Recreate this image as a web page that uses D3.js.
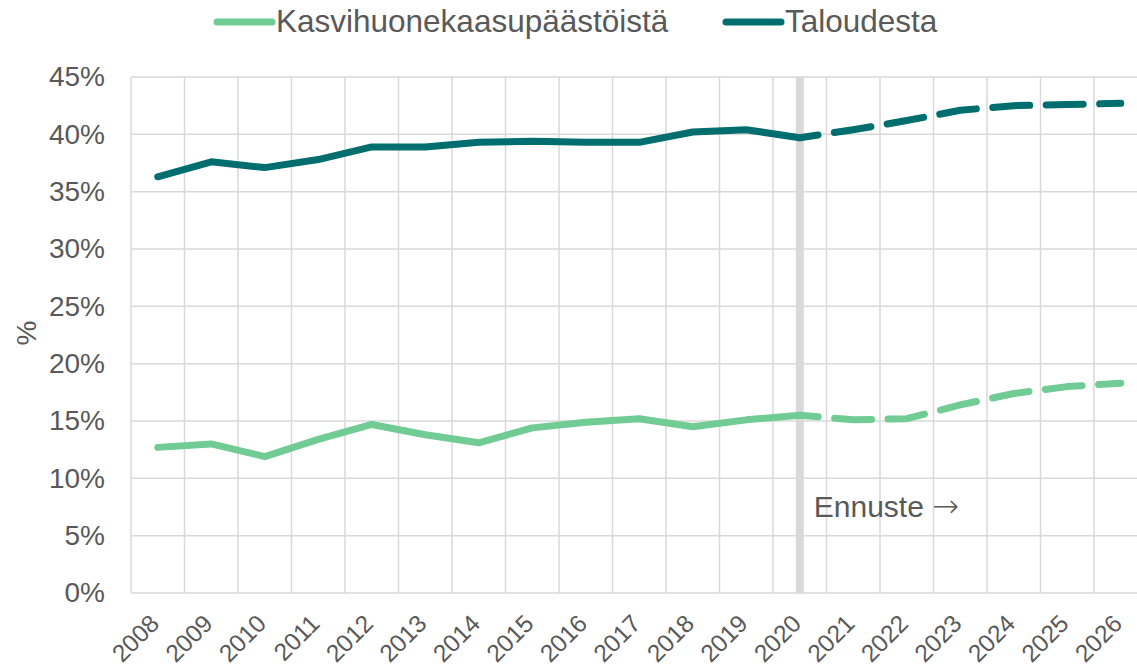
<!DOCTYPE html>
<html>
<head>
<meta charset="utf-8">
<script src="https://cdn.jsdelivr.net/npm/d3@7"></script>
<style>
  body { margin: 0; background: #fff; }
  text { font-family: "Liberation Sans", Arial, sans-serif; fill: #595959; }
</style>
</head>
<body>
<div id="chart"></div>
<script>
let years = ["2008", "2009", "2010", "2011", "2012", "2013", "2014", "2015", "2016", "2017",
  "2018", "2019", "2020", "2021", "2022", "2023", "2024", "2025", "2026"];
let kasvihuone = [12.7, 13.0, 11.9, 13.4, 14.7, 13.8, 13.1, 14.4, 14.9, 15.2,
  14.5, 15.1, 15.5, 15.1, 15.2, 16.4, 17.4, 18.0, 18.3];
let talous = [36.3, 37.6, 37.1, 37.8, 38.9, 38.9, 39.3, 39.4, 39.3, 39.3,
  40.2, 40.4, 39.7, 40.4, 41.2, 42.1, 42.5, 42.6, 42.7];
let yTicks = [0, 5, 10, 15, 20, 25, 30, 35, 40, 45];
let forecastStart = "2020";
let seriesNames = ["Kasvihuonekaasupäästöistä", "Taloudesta"];
let seriesColors = ["#70CC94", "#006E6E"];

let width = 1137, height = 669;
let plotLeft = 131, plotTop = 77, plotBottom = 593;
let band = 53.5;

let svg = d3.select("#chart").append("svg")
  .attr("width", width)
  .attr("height", height);

let x = d3.scaleBand()
  .domain(years)
  .range([plotLeft, plotLeft + band * years.length])
  .padding(0);
let y = d3.scaleLinear().domain([0, 45]).range([plotBottom, plotTop]);
let cx = d => x(d) + x.bandwidth() / 2;

// grid
let grid = svg.append("g");
grid.selectAll(".hline")
  .data(yTicks)
  .enter().append("line")
  .attr("x1", plotLeft).attr("x2", plotLeft + band * years.length)
  .attr("y1", d => y(d)).attr("y2", d => y(d))
  .style("stroke", "#D9D9D9").style("stroke-width", 1.5);
grid.selectAll(".vline")
  .data(years)
  .enter().append("line")
  .attr("x1", d => x(d)).attr("x2", d => x(d))
  .attr("y1", y(45)).attr("y2", y(0))
  .style("stroke", "#D9D9D9").style("stroke-width", 1.5);

// forecast marker band
svg.append("line")
  .attr("x1", cx(forecastStart)).attr("x2", cx(forecastStart))
  .attr("y1", y(45)).attr("y2", y(0))
  .style("stroke", "#D9D9D9").style("stroke-width", 8);

// y axis labels
let yAxis = svg.append("g")
  .attr("transform", "translate(" + (plotLeft - 10) + ",0)")
  .call(d3.axisLeft(y).tickValues(yTicks).tickFormat(d => d + "%").tickSize(0).tickPadding(16));
yAxis.select(".domain").remove();
yAxis.selectAll("text").style("font-size", "28px").style("fill", "#595959")
  .style("font-family", "Liberation Sans, Arial, sans-serif");

svg.append("text")
  .attr("transform", "translate(36," + (y(22.5) - 2) + ") rotate(-90)")
  .attr("text-anchor", "middle")
  .style("font-size", "28px")
  .text("%");

// x axis labels
let xAxis = svg.append("g")
  .attr("transform", "translate(0," + plotBottom + ")")
  .call(d3.axisBottom(x).tickSize(0).tickPadding(0));
xAxis.select(".domain").remove();
xAxis.selectAll("text")
  .style("font-size", "24.5px").style("fill", "#595959")
  .style("font-family", "Liberation Sans, Arial, sans-serif")
  .attr("text-anchor", "end")
  .attr("y", 0).attr("dy", 0)
  .attr("transform", "translate(3,32) rotate(-45)");

// lines
let split = years.indexOf(forecastStart);
let line = d3.line()
  .x(d => cx(d.year))
  .y(d => y(d.value));

[kasvihuone, talous].forEach(function (vals, i) {
  let pts = years.map((yr, j) => ({ year: yr, value: vals[j] }));
  svg.append("path")
    .datum(pts.slice(0, split + 1))
    .attr("d", line)
    .style("fill", "none")
    .style("stroke", seriesColors[i])
    .style("stroke-width", 7)
    .style("stroke-linejoin", "round")
    .style("stroke-linecap", "round");
  svg.append("path")
    .datum(pts.slice(split))
    .attr("d", line)
    .style("fill", "none")
    .style("stroke", seriesColors[i])
    .style("stroke-width", 7)
    .style("stroke-linejoin", "round")
    .style("stroke-linecap", "round")
    .style("stroke-dasharray", "37,16.5")
    .style("stroke-dashoffset", 18.5);
});

// forecast label
let ennuste = svg.append("text")
  .attr("x", cx(forecastStart) + 14)
  .attr("y", 517)
  .style("font-size", "30px")
  .text("Ennuste ");
ennuste.append("tspan")
  .style("font-family", "DejaVu Sans, sans-serif")
  .style("font-weight", 200)
  .style("font-size", "32px")
  .text("\u2192");

// legend
let legend = svg.append("g");
let legendX = [217, 726];
seriesNames.forEach(function (name, i) {
  legend.append("line")
    .attr("x1", legendX[i]).attr("x2", legendX[i] + 55)
    .attr("y1", 22).attr("y2", 22)
    .style("stroke", seriesColors[i])
    .style("stroke-width", 7)
    .style("stroke-linecap", "round");
  legend.append("text")
    .attr("x", legendX[i] + 59)
    .attr("y", 32)
    .style("font-size", "31.5px")
    .text(name);
});
</script>
</body>
</html>
